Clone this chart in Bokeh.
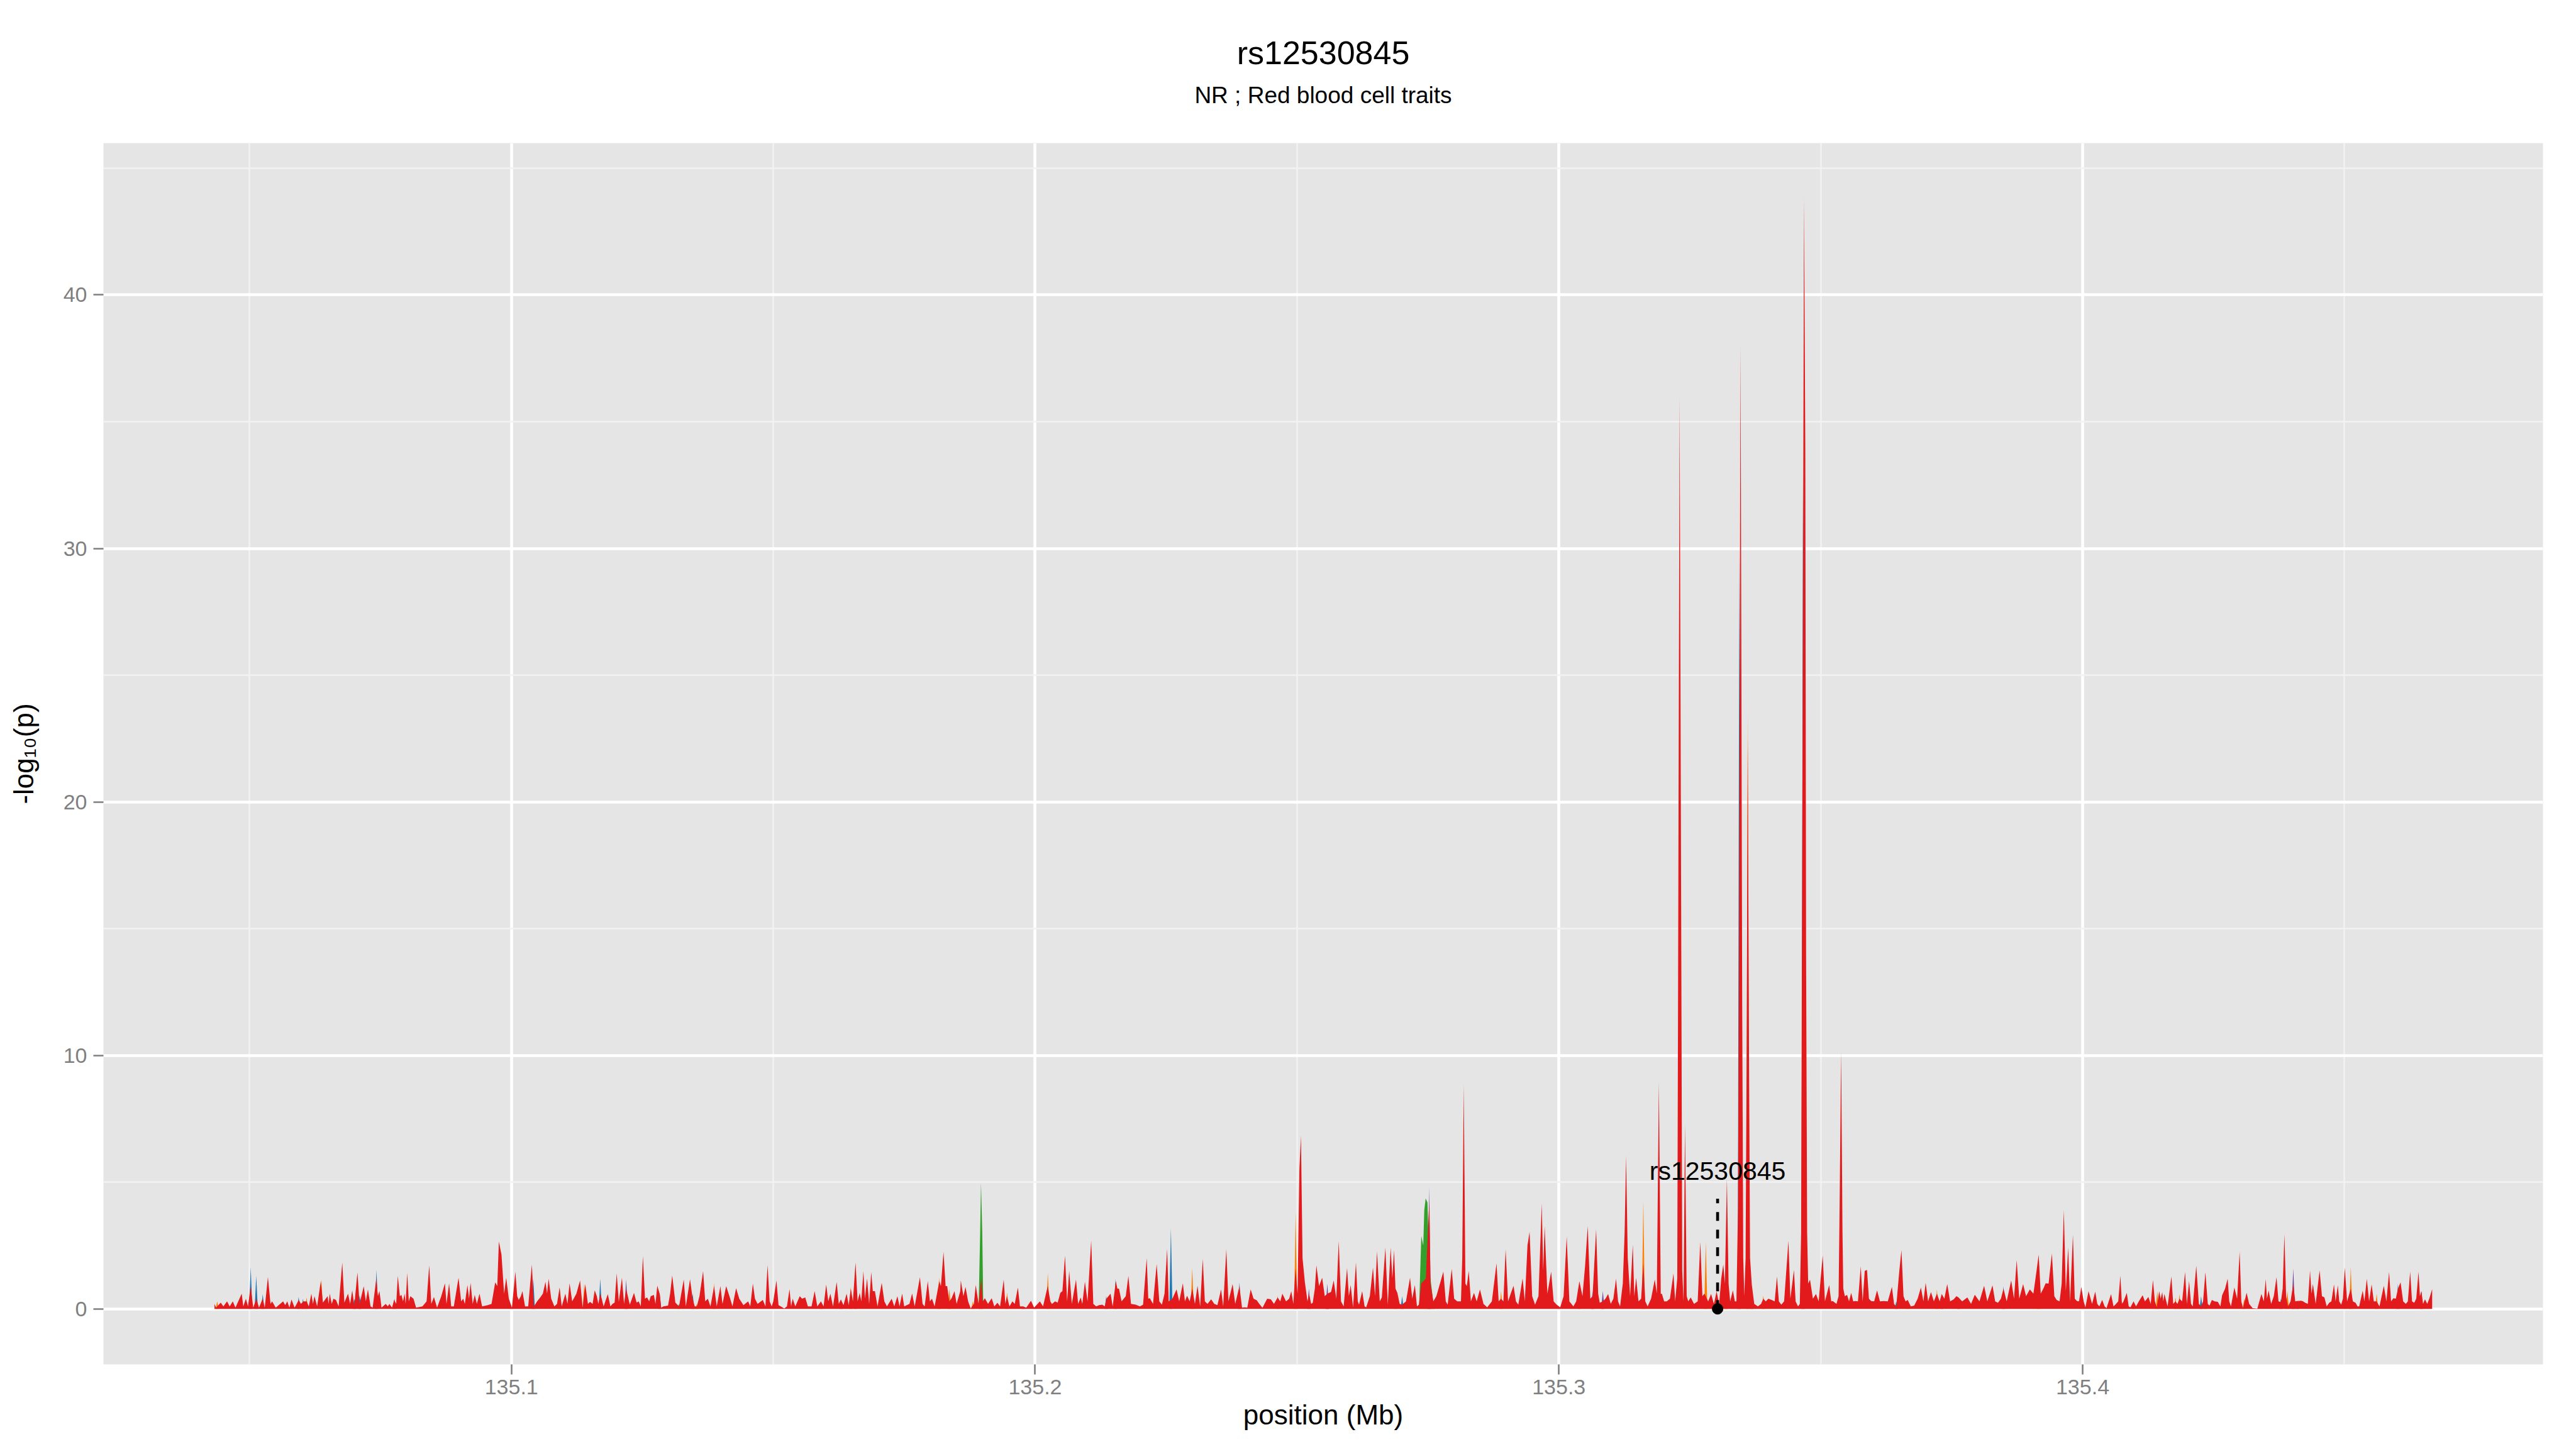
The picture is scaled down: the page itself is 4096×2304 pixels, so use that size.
from bokeh.plotting import figure
from bokeh.models import Range1d, FixedTicker, Title, PrintfTickFormatter
from bokeh.embed import file_html
from bokeh.resources import INLINE

# positions in kb above 135.0 Mb, values are -log10(p)
red_pts = [
(43.3,0.2),(43.6,0.05),(44.5,0.25),(45.0,0.1),(45.7,0.3),(46.2,0.1),(46.8,0.3),(47.3,0.05),(48.5,0.6),(48.8,0.1),(49.3,0.4),(49.7,0.1),(50.2,0.9),(50.7,0.05),(51.3,0.4),(51.8,0.05),(52.5,0.4),(52.9,0.05),(53.5,1.26),(54.0,0.2),(54.3,0.3),(55.0,0.05),(56.4,0.3),(56.8,0.15),(57.2,0.3),(57.6,0.05),(58.0,0.37),(58.6,0.05),(59.4,0.35),(59.8,0.2),(60.3,0.3),(60.9,0.3),(61.3,0.1),(61.8,0.6),(62.1,0.2),(62.4,0.5),(62.9,0.1),(63.6,1.1),(64.0,0.25),(64.9,0.5),(65.1,0.2),(65.3,0.6),(65.7,0.2),(66.0,0.4),(66.5,0.35),(67.0,0.1),(67.7,1.83),(68.1,0.25),(68.8,0.6),(69.2,0.2),(69.6,0.73),(70.0,0.15),(70.6,1.44),(71.0,0.2),(71.8,0.89),(72.2,0.3),(72.6,0.77),(73.1,0.1),(73.5,0.05),(74.2,1.2),(74.5,0.5),(74.8,0.7),(75.2,0.05),(76.0,0.2),(76.4,0.1),(76.7,0.2),(77.2,0.05),(77.6,0.35),(78.0,0.2),(78.3,1.3),(78.7,0.5),(79.0,0.55),(79.3,0.3),(79.6,0.6),(79.8,0.2),(80.1,1.42),(80.4,0.3),(80.7,0.5),(81.3,0.4),(81.8,0.05),(83.0,0.1),(83.8,0.3),(84.3,1.72),(84.7,0.2),(85.2,0.47),(85.8,0.05),(86.6,0.5),(87.3,1.01),(87.6,0.2),(88.1,1.01),(88.5,0.1),(89.0,0.1),(89.9,1.23),(90.4,0.3),(90.8,0.4),(91.1,0.2),(91.6,0.94),(91.9,0.4),(92.2,1.03),(92.6,0.2),(93.0,0.55),(93.4,0.2),(93.9,0.6),(94.4,0.1),(95.5,0.15),(96.2,0.2),(96.9,1.05),(97.3,0.9),(97.6,2.66),(98.1,2.14),(98.6,0.6),(99.0,1.23),(99.5,0.4),(100.1,0.05),(100.75,1.47),(101.1,0.5),(101.4,0.35),(101.8,0.5),(102.1,0.7),(102.6,0.1),(103.2,0.1),(103.9,1.75),(104.3,0.1),(104.9,0.3),(105.5,0.45),(106.0,0.6),(106.5,1.07),(106.8,0.6),(107.1,1.19),(107.6,0.4),(108.2,0.1),(108.7,0.2),(109.2,0.84),(109.6,0.1),(110.3,0.6),(110.7,0.2),(111.1,1.01),(111.6,0.3),(112.4,0.6),(113.1,1.12),(113.6,0.05),
(114.1,0.98),(114.6,0.2),(115.0,0.28),(115.5,0.2),(115.9,0.73),(116.3,0.5),(116.6,0.2),(117.0,0.6),(117.6,0.1),(118.4,0.58),(118.9,0.1),(119.3,0.2),(119.7,0.25),(120.1,1.4),(120.5,0.28),(121.1,1.23),(121.5,0.2),(121.9,0.8),(122.6,0.17),(123.4,0.63),(123.9,0.25),(124.3,0.3),(124.7,0.1),(125.1,2.09),(125.5,0.4),(125.9,0.45),(126.3,0.3),(126.6,0.5),(127.2,0.55),(127.5,0.2),(127.85,0.92),(128.3,0.6),(128.6,0.05),(129.0,0.1),(129.9,0.13),(130.3,0.6),(130.7,1.32),(131.3,0.25),(132.0,0.1),(132.9,1.16),(133.3,0.1),(134.1,1.17),(134.6,0.4),(135.0,0.1),(135.4,0.1),(135.9,0.5),(136.6,1.49),(137.0,0.3),(137.5,0.4),(138.0,0.1),(138.7,0.9),(139.2,0.1),(139.9,0.9),(140.3,0.2),(141.0,0.9),(141.7,0.45),(142.2,0.1),(142.9,0.82),(143.5,0.4),(144.3,0.15),(145.2,0.3),(145.6,0.1),(146.1,1.0),(146.5,0.4),(147.0,0.2),(148.0,0.35),(148.5,0.1),(148.9,1.73),(149.3,0.3),(149.7,0.1),(150.0,0.3),(150.6,1.12),(151.0,0.15),(152.1,0.02),(152.6,0.1),(153.1,0.78),(153.4,0.1),(153.7,0.4),(154.2,0.1),(155.05,0.5),(155.5,0.4),(156.1,0.45),(156.6,0.1),(157.3,0.1),(157.9,0.7),(158.4,0.1),(159.1,0.3),(159.6,0.1),(160.1,0.96),(160.5,0.3),(160.9,0.6),(161.4,0.1),(162.1,1.06),(162.5,0.2),(162.9,0.37),(163.4,0.15),(164.0,0.6),(164.4,0.15),(164.8,0.8),(165.2,0.3),(165.7,1.83),(166.1,0.3),(166.5,0.63),(166.8,0.3),(167.2,1.49),(167.5,0.4),(167.9,1.2),(168.3,0.2),(168.7,1.45),(169.0,0.7),(169.4,0.7),(169.9,0.1),(170.7,1.03),(171.2,0.3),(171.7,0.1),(172.6,0.4),(173.1,0.1),(173.7,0.5),(174.1,0.1),(174.6,0.6),(175.0,0.1),(176.0,0.2),(176.5,0.61),(177.0,0.1),(178.0,1.25),(178.5,0.2),(178.9,0.1),(179.5,1.1),(179.9,0.3),(180.3,0.4),(180.8,0.1),(181.7,1.1),(182.0,0.9),(182.5,2.25),(182.9,0.9),(183.2,0.9),(183.6,0.3),(184.0,0.4),(184.6,0.7),(185.0,0.2),(185.7,0.7),
(185.8,1.12),(186.3,0.5),(186.7,0.87),(187.2,0.3),(187.7,0.02),(188.3,0.2),(188.65,0.94),(189.2,0.2),(189.7,1.2),(190.0,0.3),(190.4,0.42),(191.0,0.2),(191.7,0.42),(192.2,0.1),(192.8,0.24),(193.3,0.1),(194.0,1.16),(194.3,0.2),(194.6,0.5),(195.1,0.1),(195.65,0.3),(196.1,0.2),(196.7,0.84),(197.1,0.1),(197.7,0.1),(198.3,0.05),(199.2,0.32),(199.8,0.05),(200.9,0.3),(201.5,0.1),(202.4,0.9),(202.9,0.3),(203.2,0.19),(203.8,0.3),(204.3,0.25),(204.8,0.63),(205.2,0.7),(205.7,2.1),(206.1,0.3),(206.5,1.5),(207.0,0.2),(207.8,1.16),(208.2,0.2),(208.7,0.45),(209.0,0.2),(209.5,1.07),(210.0,0.3),(210.7,2.7),(211.1,0.2),(211.65,0.1),(212.2,0.15),(212.8,0.17),(213.3,0.1),(213.6,0.4),(214.4,0.6),(214.8,0.1),(215.4,1.1),(215.7,0.8),(216.0,0.8),(216.5,0.3),(217.3,0.5),(217.8,1.3),(218.3,0.2),(219.2,0.17),(220.0,0.1),(220.6,0.17),(221.3,2.0),(221.6,0.4),(221.9,0.42),(222.5,0.2),(223.2,1.77),(223.7,0.3),(224.2,0.17),(224.7,0.6),(225.2,2.37),(225.5,0.3),(226.2,0.4),(227.0,0.77),(227.5,0.3),(228.2,1.01),(228.6,0.3),(229.0,0.52),(229.5,0.3),(230.0,0.8),(230.5,0.2),(231.0,0.91),(231.5,0.1),(232.0,1.97),(232.4,0.3),(232.9,0.2),(233.6,0.38),(234.2,0.2),(234.8,0.15),(235.5,0.77),(235.9,0.1),(236.5,2.35),(236.9,0.3),(237.7,0.98),(238.2,0.2),(239.0,0.9),(239.5,0.05),(240.0,0.06),(240.5,0.05),(241.15,0.77),(241.7,0.4),(242.3,0.34),(242.8,0.2),(243.4,0.04),(244.3,0.4),(245.0,0.38),(245.6,0.2),(246.3,0.45),(246.8,0.3),(247.2,0.6),(247.9,0.3),(248.5,0.4),(248.9,0.7),(249.3,0.2),(249.7,1.6),(250.1,0.6),(250.45,5.5),(250.75,6.83),(251.05,2.0),(251.5,1.05),(252.0,0.3),(252.3,0.6),(252.7,0.2),(253.0,0.24),(253.4,0.8),(253.7,1.72),(254.2,0.9),(254.8,1.23),(255.3,0.5),(255.8,0.6),(256.5,0.67),(257.0,1.12),
(257.5,0.4),(257.96,2.67),(258.4,0.3),(258.9,0.1),(259.56,1.61),(259.9,0.5),(260.24,0.94),(260.7,0.06),(261.25,1.83),(261.6,0.3),(261.84,0.17),(262.44,0.7),(262.9,0.1),(263.2,0.06),(263.9,0.5),(264.5,1.63),(264.9,0.5),(265.27,2.27),(265.8,0.3),(266.19,0.45),(266.87,2.42),(267.33,0.17),(267.88,2.42),(268.2,1.2),(268.52,2.32),(268.8,0.8),(269.16,0.63),(269.6,0.2),(270.07,0.17),(270.8,0.3),(271.58,1.23),(272.0,0.4),(272.5,0.94),(272.9,0.1),(273.27,0.17),(273.7,1.0),(274.6,1.2),(275.24,4.2),(275.5,1.0),(276.02,0.3),(276.6,0.5),(277.94,1.47),(278.4,0.3),(278.76,0.17),(279.54,1.58),(280.0,0.4),(280.59,0.3),(281.3,0.3),(281.55,2.0),(281.83,8.85),(282.15,1.0),(282.42,0.9),(282.79,1.5),(283.2,0.3),(283.79,0.63),(284.3,0.3),(284.93,0.77),(285.6,0.2),(286.31,0.06),(287.2,0.3),(288.09,1.8),(288.5,0.3),(288.96,0.4),(289.4,0.3),(289.83,2.35),(290.3,0.3),(290.8,0.6),(291.34,0.91),(291.8,0.3),(292.25,0.17),(293.07,1.2),(293.5,0.3),(294.0,2.5),(294.4,3.04),(294.9,0.5),(295.45,0.17),(296.1,0.5),(296.73,4.16),(297.0,1.5),(297.28,3.27),(297.8,0.6),(298.52,1.47),(299.0,0.3),(299.57,0.17),(300.25,0.06),(300.9,0.5),(301.49,2.85),(302.0,0.3),(302.77,0.1),(303.3,0.3),(303.91,1.09),(304.5,0.5),(305.0,1.7),(305.51,3.27),(306.0,0.4),(306.43,0.5),(307.11,3.14),(307.5,0.6),(307.8,0.24),(308.39,0.3),(308.9,0.4),(309.4,0.59),(309.9,0.2),(310.4,0.4),(310.91,1.19),(311.3,0.3),(311.68,0.1),(312.2,1.0),(312.55,3.0),(312.83,6.04),(313.15,2.0),(313.6,0.5),(314.11,2.53),(314.4,0.5),(314.75,1.23),(315.2,0.3),(315.7,0.4),(316.12,1.8),(316.5,0.3),(316.94,0.1),(317.6,0.4),(318.31,1.16),(318.7,0.6),(319.09,8.94),(319.45,0.6),(319.68,0.59),(320.1,0.3),(320.6,0.3),(321.2,0.4),(321.88,1.4),(322.2,0.3),(322.6,1.2),(322.75,12.0),(323.05,36.0),(323.4,12.0),(323.55,1.5),(323.8,0.3),(324.08,7.27),(324.4,0.5),(324.7,0.3),(325.17,0.45),(325.8,0.2),(326.5,0.3),(327.0,2.64),(327.4,0.5),(327.8,0.6),(328.5,0.3),(329.06,0.59),
(329.6,0.2),(330.11,0.69),(330.6,0.2),(331.0,1.2),(331.39,1.75),(331.7,1.0),(332.08,5.14),(332.4,1.0),(332.7,0.3),(333.22,0.73),(333.6,0.3),(333.9,0.3),(334.2,4.0),(334.35,12.0),(334.69,38.0),(335.0,12.0),(335.2,2.0),(335.4,0.5),(335.65,2.0),(335.85,10.0),(336.06,22.5),(336.3,10.0),(336.5,2.0),(336.84,0.94),(337.3,0.2),(338.0,0.1),(338.6,0.2),(339.03,0.4),(339.5,0.3),(340.0,0.4),(340.63,0.35),(341.2,0.3),(341.64,1.28),(342.0,0.3),(342.46,0.17),(343.0,0.3),(343.83,2.69),(344.2,0.4),(344.88,1.54),(345.2,0.3),(345.66,0.1),(346.0,0.2),(346.25,3.0),(346.4,14.0),(346.55,24.0),(346.8,43.8),(347.05,34.0),(347.2,14.0),(347.4,3.0),(347.6,1.0),(347.95,1.15),(348.5,0.4),(349.09,0.59),(349.6,0.3),(350.37,2.11),(350.8,0.3),(351.6,0.94),(352.0,0.3),(352.29,0.31),(353.0,0.2),(353.4,0.5),(353.6,4.0),(353.89,10.16),(354.15,3.0),(354.3,0.8),(354.6,0.5),(355.03,0.55),(355.4,0.3),(355.81,0.63),(356.2,0.3),(356.63,0.31),(357.1,0.3),(357.64,1.68),(358.0,0.3),(358.4,1.5),(358.83,1.54),(359.2,0.4),(359.61,0.31),(360.2,0.3),(360.75,0.73),(361.3,0.3),(362.03,0.31),(362.8,0.3),(363.58,0.87),(364.0,0.2),(364.41,0.1),(365.0,1.5),(365.41,2.32),(365.8,0.5),(366.2,0.3),(366.6,0.35),(367.2,0.1),(367.84,0.13),(368.5,0.4),(369.12,0.84),(369.6,0.3),(370.03,1.03),(370.5,0.3),(371.04,0.66),(371.6,0.3),(372.18,0.6),(372.7,0.3),(373.1,0.59),(373.6,0.4),(374.15,0.98),(374.7,0.3),(375.38,0.38),(375.9,0.5),(376.3,0.45),(377.0,0.3),(377.99,0.45),(378.7,0.2),(379.41,0.56),(380.3,0.3),(381.19,0.91),(381.8,0.3),(382.79,0.93),(383.3,0.3),(383.84,0.24),(384.4,0.4),(384.89,0.8),(385.5,0.3),(386.36,1.12),(386.9,0.4),(387.41,1.93),(387.9,0.4),(388.64,0.98),(389.2,0.5),(389.92,0.77),(390.6,0.6),(391.2,1.5),(391.61,2.14),(392.0,0.6),(392.5,0.8),(392.94,1.01),(393.5,1.0),(394.13,2.18),(394.6,0.5),(395.04,0.35),(395.6,0.3),(396.0,1.0),(396.41,3.9),(396.8,0.7),(397.24,2.42),(397.6,0.3),(398.15,2.92),(398.5,0.4),(398.93,0.31),(399.3,0.3),(399.75,0.87),(400.2,0.3),(400.53,0.06),
(401.13,0.7),(401.8,0.2),(402.41,0.68),(402.8,0.2),(403.19,0.1),(403.73,0.35),(404.2,0.1),(404.56,0.03),(405.43,0.58),(405.9,0.1),(406.3,0.18),(406.8,0.3),(407.21,1.31),(407.5,0.2),(407.76,0.27),(408.44,0.63),(408.8,0.1),(409.13,0.06),(409.72,0.3),(410.2,0.1),(410.73,0.3),(411.46,0.54),(411.9,0.3),(412.56,0.47),(413.0,0.2),(413.43,1.14),(413.8,0.3),(414.16,0.06),(414.62,0.7),(414.9,0.4),(415.21,0.66),(415.4,0.3),(415.62,0.59),(416.22,0.1),(416.95,1.28),(417.3,0.2),(417.73,0.3),(418.1,0.2),(418.5,0.4),(419.0,0.3),(419.56,1.46),(419.9,0.2),(420.33,1.1),(420.7,0.2),(421.02,0.1),(421.7,1.7),(422.2,0.2),(422.62,0.1),(423.0,0.3),(423.44,1.44),(423.9,0.2),(424.22,0.13),(424.68,0.35),(425.2,0.3),(425.82,0.28),(426.3,0.1),(426.64,0.54),(427.2,0.8),(427.69,1.19),(428.0,0.3),(428.33,0.1),(428.97,0.84),(429.5,0.4),(429.98,2.26),(430.3,0.3),(430.62,0.03),(431.31,0.64),(431.8,0.2),(432.45,0.03),(433.36,0.01),(434.14,0.59),(434.6,0.3),(434.96,1.18),(435.2,0.4),(435.51,0.73),(436.0,0.2),(436.5,0.5),(437.02,1.25),(437.4,0.3),(437.85,0.27),(438.2,0.8),(438.53,2.95),(438.85,0.5),(439.22,0.1),(439.7,0.3),(440.22,1.0),(440.6,0.3),(440.91,0.31),(441.73,0.32),(442.1,0.3),(442.51,0.24),(443.0,0.2),(443.42,1.51),(443.7,0.6),(443.97,0.98),(444.5,0.2),(445.25,1.52),(445.7,0.5),(446.17,0.45),(446.6,0.1),(447.08,0.24),(447.5,0.3),(448.0,0.97),(448.3,0.3),(448.73,0.93),(449.0,0.3),(449.37,0.17),(449.7,0.4),(450.06,1.63),(450.5,0.3),(451.2,0.8),(451.6,0.3),(452.11,0.24),(452.5,0.1),(452.8,0.1),(453.48,0.72),(453.8,0.3),(454.26,1.19),(454.7,0.3),(455.18,0.97),(455.6,0.3),(456.14,0.3),(456.68,0.1),(457.51,0.91),(458.0,0.3),(458.51,1.45),(458.9,0.3),(459.33,0.42),(459.8,0.4),(460.21,0.8),(460.71,1.05),(461.2,0.3),(461.71,0.2),(462.1,0.3),(462.54,1.47),(462.9,0.3),(463.31,0.24),(463.7,0.4),(464.14,1.47),(464.4,0.5),(464.69,0.7),(465.0,0.2),(465.37,0.38),(465.8,0.2),(466.2,0.41),(466.74,0.78),
]

orange_peaks = [(43.82,0.3),(60.88,0.45),(63.71,1.17),(109.21,0.84),(113.9,1.0),(135.39,0.2),(138.68,1.03),(164.79,0.87),(165.71,1.8),(181.66,1.26),(183.63,0.8),
(188.1,0.3),(194.64,0.65),(202.42,1.42),(229.99,1.61),(246.31,0.52),(249.74,3.83),(255.8,0.6),(268.8,0.3),(288.96,0.7),(303.91,1.09),(316.12,4.26),(328.05,2.64),
(331.9,1.4),(336.06,23.5),(339.03,0.52),(366.6,0.35),(372.18,0.77),(391.61,2.1),(404.9,0.15),(407.5,0.3),(414.25,0.7),(417.73,0.45),(418.5,0.58),(423.44,1.44),(430.85,0.4),(439.1,0.7),(451.2,1.65),(456.14,0.6)]
blue_peaks = [(50.22,1.65),(51.27,1.3),(52.51,0.58),(59.37,0.47),(60.2,0.4),(70.02,0.4),(71.03,0.55),(74.23,1.54),(77.66,0.4),(104.18,1.2),
(116.96,1.19),(128.3,0.63),(134.61,0.6),(159.12,0.3),(162.92,0.37),(213.57,0.5),(215.36,1.19),(225.92,3.19),(239.0,1.05),(270.07,0.5),(306.43,0.7),
(334.45,30.0),(336.84,0.94),(346.6,33.0),(364.41,0.3),(373.1,0.5),(384.89,0.9),(422.62,0.5),(437.85,0.4),(441.0,0.3),(460.21,1.0)]
purple_peaks = [(121.9,1.16),(197.71,0.1),(252.26,0.8),(255.78,1.0),(275.24,4.8),(308.39,0.7),(376.3,0.45),(409.72,0.3),(440.22,1.6),(464.69,0.7)]
green_pts = [(131.7,0.0),(131.96,0.2),(132.2,0.0),(189.2,0.0),(189.5,3.0),(189.66,4.98),(189.9,3.0),(190.1,0.0),
(273.3,0.0),(273.73,2.88),(274.1,2.5),(274.3,3.9),(274.56,4.36),(274.9,4.2),(275.3,1.5),(276.0,0.3),(276.3,0.0)]

title_text = "rs12530845"
subtitle_text = "NR ; Red blood cell traits"
snp_name = ["rs12530845"]
snp_kb = [330.3]
snp_p = [0.0]
label_p = [5.45]
stem_top = [4.35]

x_major = [135.1, 135.2, 135.3, 135.4]
x_minor = [135.05, 135.15, 135.25, 135.35, 135.45]
y_major = [0, 10, 20, 30, 40]
y_minor = [5, 15, 25, 35, 45]

def mb(k):
    return 135.0 + k / 1000.0

HW = 0.3  # spike half-width (kb) for overlay series

def spikes(peaks):
    xs, ys = [], []
    for k, v in sorted(peaks):
        xs += [mb(k - HW), mb(k), mb(k + HW)]
        ys += [0.0, v, 0.0]
    return xs, ys

FONT = "Liberation Sans"

p = figure(width=4088, height=2296, output_backend="svg", toolbar_location=None,
           x_range=Range1d(135.0221, 135.4879), y_range=Range1d(-2.19, 45.99),
           min_border_left=164, min_border_right=45, min_border_top=227, min_border_bottom=127,
           background_fill_color="#E5E5E5", border_fill_color="white")
p.outline_line_color = None

for peaks, col in [(orange_peaks, "#FF7F00"), (blue_peaks, "#1F78B4"), (purple_peaks, "#6A3D9A")]:
    xs, ys = spikes(peaks)
    p.varea(x=xs, y1=[0.0] * len(xs), y2=ys, fill_color=col)
gx = [mb(k) for k, v in green_pts]
gy = [v for k, v in green_pts]
p.varea(x=gx, y1=[0.0] * len(gx), y2=gy, fill_color="#33A02C")

rx = [mb(k) for k, v in red_pts]
ry = [v for k, v in red_pts]
p.varea(x=rx, y1=[0.0] * len(rx), y2=ry, fill_color="#E31A1C")

# highlighted SNP
sx = [mb(k) for k in snp_kb]
p.segment(x0=sx, y0=snp_p, x1=sx, y1=stem_top, line_color="black", line_width=4.6, line_dash="14 14")
p.scatter(x=sx, y=snp_p, size=17, fill_color="black", line_color="black")
p.text(x=sx, y=label_p, text=snp_name, text_align="center", text_baseline="middle",
       text_font_size="41px", text_color="black", text_font={"value": FONT})

# grids
p.xaxis.ticker = FixedTicker(ticks=x_major, minor_ticks=x_minor)
p.yaxis.ticker = FixedTicker(ticks=y_major, minor_ticks=y_minor)
for g in (p.xgrid[0], p.ygrid[0]):
    g.grid_line_color = "white"
    g.grid_line_width = 4.6
    g.minor_grid_line_color = "#F2F2F2"
    g.minor_grid_line_width = 2.6

p.xaxis.formatter = PrintfTickFormatter(format="%.1f")
p.yaxis.formatter = PrintfTickFormatter(format="%d")
for ax in (p.xaxis[0], p.yaxis[0]):
    ax.axis_line_color = None
    ax.major_tick_line_color = "#7F7F7F"
    ax.major_tick_line_width = 2.6
    ax.major_tick_out = 16
    ax.major_tick_in = 0
    ax.minor_tick_line_color = None
    ax.major_label_text_color = "#7F7F7F"
    ax.major_label_text_font = FONT
    ax.major_label_text_font_size = "34px"
    ax.axis_label_text_font = FONT
    ax.axis_label_text_font_size = "44px"
    ax.axis_label_text_font_style = "normal"
    ax.axis_label_text_color = "black"
p.xaxis.axis_label = "position (Mb)"
p.yaxis.axis_label = "-log₁₀(p)"
p.xaxis.major_label_standoff = 8
p.xaxis.axis_label_standoff = 5
p.yaxis.major_label_standoff = 10
p.yaxis.axis_label_standoff = 36

p.title = None
# empty spacer panel between the frame and the subtitle
p.add_layout(Title(text=" ", text_font_size="10px", standoff=43), "above")
p.add_layout(Title(text=subtitle_text, align="center", text_font=FONT,
                   text_font_size="37px", text_font_style="normal", text_color="black", standoff=0), "above")
p.add_layout(Title(text=title_text, align="center", text_font=FONT,
                   text_font_size="52px", text_font_style="normal", text_color="black", standoff=32), "above")

open("out.html", "w").write(file_html(p, INLINE))
